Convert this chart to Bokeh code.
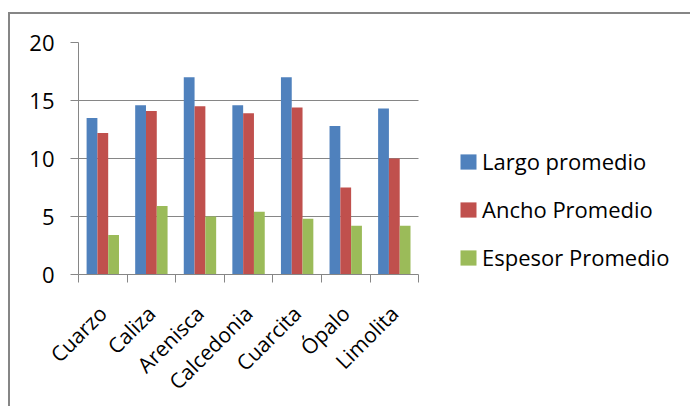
import numpy as np
from math import pi
from bokeh.plotting import figure
from bokeh.models import Range1d, FixedTicker, Legend, LegendItem
from bokeh.embed import file_html
from bokeh.resources import INLINE

# Average dimensions per rock type
rocks = ["Cuarzo", "Caliza", "Arenisca", "Calcedonia", "Cuarcita", "Ópalo", "Limolita"]
largo = [13.5, 14.6, 17.0, 14.6, 17.0, 12.8, 14.3]
ancho = [12.2, 14.1, 14.5, 13.9, 14.4, 7.5, 10.0]
espesor = [3.4, 5.9, 5.0, 5.4, 4.8, 4.2, 4.2]
series_names = ["Largo promedio", "Ancho Promedio", "Espesor Promedio"]
series_colors = ["#4F81BD", "#C0504D", "#9BBB59"]
y_ticks = [0, 5, 10, 15, 20]

FONT = "Open Sans"
GREY = "#868686"

W, H = 682, 394
LEFT, TOP, BOTTOM = 68, 28, 132
PLOT_W = 339                          # pixel width of the category area
n = len(rocks)
x_max = n * (W - 2 - LEFT) / PLOT_W   # frame also hosts the legend on the right

# the figure sits inside a chart-area border drawn on its top and left edges
p = figure(width=W, height=H, output_backend="svg", toolbar_location=None,
           x_range=Range1d(0, x_max), y_range=Range1d(0, 20),
           min_border_left=LEFT, min_border_right=0, min_border_top=TOP,
           min_border_bottom=BOTTOM, margin=(12, 0, 0, 8))
p.styles = {"border-top": f"2px solid {GREY}", "border-left": f"2px solid {GREY}"}
p.outline_line_color = None
p.background_fill_color = "white"
p.border_fill_color = "white"

# three bars per category, gap width 150 %
centers = np.arange(n) + 0.5
bar_w = 1 / 4.5
offsets = [-bar_w, 0.0, bar_w]
renderers = []
for vals, color, off in zip([largo, ancho, espesor], series_colors, offsets):
    r = p.vbar(x=centers + off, top=vals, width=bar_w, bottom=0,
               fill_color=color, line_color=None)
    renderers.append(r)

# y axis
p.yaxis.ticker = FixedTicker(ticks=y_ticks, minor_ticks=[])
p.yaxis.axis_line_color = GREY
p.yaxis.major_tick_line_color = GREY
p.yaxis.major_tick_out = 8
p.yaxis.major_tick_in = 0
p.yaxis.major_label_standoff = 16
p.yaxis.major_label_text_font = FONT
p.yaxis.major_label_text_font_size = "22px"
p.yaxis.major_label_text_color = "black"

# x axis: labels at category centres, tick marks at boundaries
p.xaxis.bounds = (0, n)
p.xaxis.ticker = FixedTicker(ticks=list(centers), minor_ticks=list(range(n + 1)))
p.xaxis.major_label_overrides = {float(c): name for c, name in zip(centers, rocks)}
p.xaxis.major_tick_out = 0
p.xaxis.major_tick_in = 0
p.xaxis.minor_tick_out = 8
p.xaxis.minor_tick_in = 0
p.xaxis.minor_tick_line_color = GREY
p.xaxis.axis_line_color = GREY
p.xaxis.major_label_orientation = pi / 4
p.xaxis.major_label_standoff = 27
p.xaxis.major_label_text_font = FONT
p.xaxis.major_label_text_font_size = "21px"
p.xaxis.major_label_text_line_height = 1.0
p.xaxis.major_label_text_color = "black"

p.xgrid.grid_line_color = None
ygrid = p.ygrid[0]
ygrid.grid_line_color = GREY
ygrid.grid_line_width = 1
if "cross_bounds" in ygrid.properties():
    ygrid.cross_bounds = (0, n)
else:
    ygrid.visible = False
    p.segment(x0=0, x1=n, y0=y_ticks, y1=y_ticks, line_color=GREY, line_width=1)

legend = Legend(items=[LegendItem(label=s, renderers=[r]) for s, r in zip(series_names, renderers)],
                location=(380, 2), glyph_width=20, glyph_height=19, label_height=30,
                spacing=18, padding=0, margin=0, label_standoff=4,
                border_line_color=None, background_fill_alpha=0,
                label_text_font=FONT, label_text_font_size="22px",
                label_text_color="black")
p.add_layout(legend, "center")

open("out.html", "w").write(file_html(p, INLINE))
